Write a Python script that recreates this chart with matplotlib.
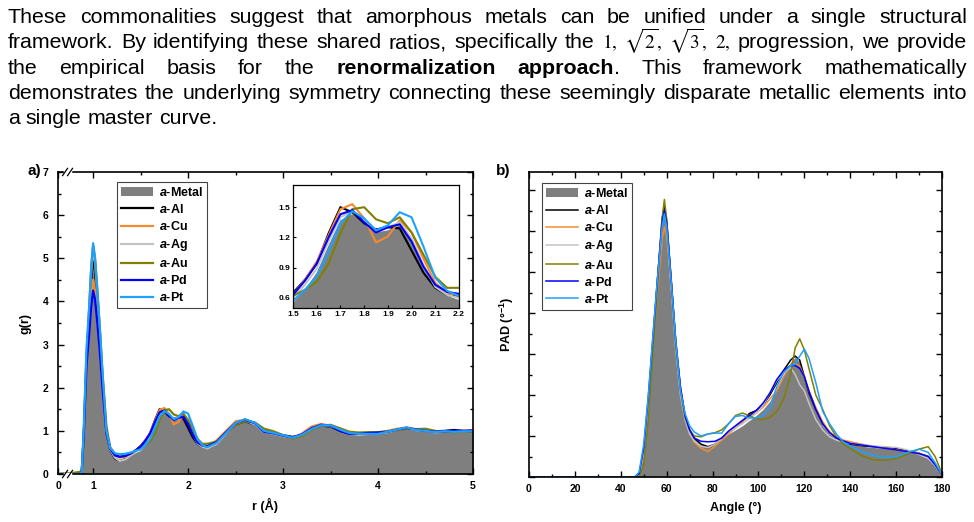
import numpy as np
import matplotlib
matplotlib.use("Agg")
import matplotlib.pyplot as plt
from matplotlib.ticker import MultipleLocator, FormatStrFormatter, NullFormatter

plt.rcParams['font.family'] = ['Liberation Sans', 'DejaVu Sans']
plt.rcParams['mathtext.fontset'] = 'custom'
plt.rcParams['mathtext.rm'] = 'Liberation Sans:bold'
plt.rcParams['mathtext.bf'] = 'Liberation Sans:bold'
plt.rcParams['mathtext.it'] = 'Liberation Sans:italic:bold'

# ---- paragraph above the figure ----
para_lines = [
    "These commonalities suggest that amorphous metals can be unified under a single structural",
    "framework. By identifying these shared ratios, specifically the $1,$ $\\sqrt{2},$ $\\sqrt{3},$ $2,$ progression, we provide",
    "the empirical basis for the **renormalization **approach. This framework mathematically",
    "demonstrates the underlying symmetry connecting these seemingly disparate metallic elements into",
    "a single master curve.",
]

# ---- panel a: g(r) ----
r = [0, 0.8, 0.86, 0.88, 0.9, 0.93, 0.96, 0.98, 1.0, 1.02, 1.04, 1.07, 1.1, 1.14, 1.18,
     1.23, 1.28, 1.34, 1.4, 1.45, 1.5, 1.55, 1.6, 1.65, 1.7, 1.75, 1.8, 1.85, 1.9, 1.95,
     2.0, 2.05, 2.1, 2.15, 2.2, 2.3, 2.4, 2.5, 2.6, 2.7, 2.8, 2.9, 3.0, 3.1, 3.2, 3.3, 3.4,
     3.5, 3.6, 3.7, 3.8, 3.9, 4.0, 4.1, 4.2, 4.3, 4.4, 4.5, 4.6, 4.7, 4.8, 4.9, 5.0]
g_metal = [0, 0, 0, 0.05, 0.9, 2.8, 3.8, 4.6, 5.1, 4.8, 4.2, 3.3, 2.2, 1.0, 0.58,
           0.40, 0.33, 0.36, 0.44, 0.5, 0.55, 0.68, 0.85, 1.12, 1.37, 1.43, 1.35, 1.25, 1.27, 1.32,
           1.16, 0.89, 0.70, 0.62, 0.58, 0.72, 0.96, 1.18, 1.25, 1.16, 0.99, 0.94, 0.88, 0.83, 0.91,
           1.05, 1.13, 1.11, 1.02, 0.95, 0.93, 0.94, 0.95, 0.97, 1.03, 1.07, 1.02, 1.01, 0.97, 0.99,
           0.98, 0.99, 1.0]
g_al = [0, 0, 0, 0.05, 0.85, 2.7, 3.7, 4.5, 5.0, 4.7, 4.1, 3.2, 2.1, 0.95, 0.55,
        0.36, 0.30, 0.35, 0.45, 0.55, 0.65, 0.78, 0.94, 1.24, 1.50, 1.45, 1.34, 1.28, 1.30, 1.29,
        1.07, 0.85, 0.70, 0.63, 0.61, 0.74, 0.95, 1.15, 1.22, 1.15, 1.0, 0.96, 0.9, 0.86, 0.9,
        1.04, 1.12, 1.1, 1.0, 0.94, 0.95, 0.96, 0.96, 0.98, 1.02, 1.06, 1.03, 1.0, 0.99, 1.0,
        1.02, 1.0, 0.99]
g_cu = [0, 0, 0, 0.05, 0.8, 2.5, 3.4, 4.1, 4.5, 4.25, 3.7, 2.9, 1.95, 0.95, 0.56,
        0.42, 0.38, 0.4, 0.47, 0.53, 0.63, 0.78, 0.96, 1.22, 1.48, 1.53, 1.39, 1.15, 1.21, 1.37,
        1.25, 0.99, 0.75, 0.65, 0.63, 0.78, 1.0, 1.22, 1.26, 1.17, 1.0, 0.95, 0.88, 0.84, 0.94,
        1.1, 1.16, 1.12, 1.02, 0.95, 0.93, 0.95, 0.96, 1.0, 1.05, 1.08, 1.04, 1.03, 0.97, 0.98,
        0.99, 1.0, 1.02]
g_ag = [0, 0, 0, 0.05, 0.9, 2.85, 3.9, 4.7, 5.2, 4.9, 4.3, 3.35, 2.2, 1.0, 0.57,
        0.38, 0.3, 0.34, 0.44, 0.52, 0.60, 0.73, 0.89, 1.16, 1.40, 1.46, 1.38, 1.27, 1.30, 1.35,
        1.19, 0.93, 0.71, 0.63, 0.60, 0.7, 0.94, 1.17, 1.24, 1.15, 0.98, 0.93, 0.88, 0.84, 0.9,
        1.04, 1.13, 1.11, 1.03, 0.94, 0.91, 0.93, 0.95, 0.97, 1.02, 1.06, 1.02, 1.0, 0.97, 0.98,
        0.98, 0.99, 1.0]
g_au = [0, 0.03, 0.05, 0.08, 0.7, 2.6, 3.9, 4.8, 5.3, 5.0, 4.4, 3.4, 2.3, 1.1, 0.62,
        0.45, 0.4, 0.42, 0.48, 0.55, 0.62, 0.68, 0.76, 0.94, 1.24, 1.48, 1.50, 1.38, 1.34, 1.40,
        1.25, 1.03, 0.81, 0.70, 0.70, 0.75, 0.95, 1.15, 1.22, 1.2, 1.05, 0.99, 0.9, 0.82, 0.88,
        1.02, 1.12, 1.14, 1.06, 0.98, 0.96, 0.96, 0.97, 0.99, 1.02, 1.05, 1.04, 1.05, 1.0, 0.98,
        0.97, 0.98, 0.99]
g_pd = [0, 0, 0, 0.05, 0.85, 2.5, 3.3, 3.9, 4.25, 4.05, 3.6, 2.85, 1.95, 0.95, 0.58,
        0.43, 0.4, 0.42, 0.48, 0.55, 0.63, 0.77, 0.94, 1.20, 1.43, 1.47, 1.35, 1.25, 1.30, 1.33,
        1.16, 0.91, 0.73, 0.66, 0.64, 0.74, 0.97, 1.18, 1.26, 1.18, 0.98, 0.94, 0.89, 0.85, 0.92,
        1.06, 1.14, 1.12, 1.0, 0.93, 0.93, 0.95, 0.96, 0.98, 1.03, 1.07, 1.03, 1.0, 0.98, 0.99,
        1.0, 1.0, 1.01]
g_pt = [0, 0, 0, 0.05, 1.0, 2.9, 3.95, 4.8, 5.35, 5.0, 4.4, 3.4, 2.3, 1.0, 0.6,
        0.48, 0.46, 0.47, 0.5, 0.54, 0.57, 0.68, 0.81, 1.06, 1.34, 1.46, 1.39, 1.27, 1.32, 1.45,
        1.40, 1.11, 0.80, 0.67, 0.62, 0.72, 0.95, 1.18, 1.27, 1.19, 1.0, 0.95, 0.9, 0.84, 0.91,
        1.04, 1.13, 1.13, 1.03, 0.95, 0.93, 0.93, 0.93, 0.98, 1.03, 1.08, 1.02, 1.0, 0.97, 0.99,
        0.98, 0.99, 0.99]

# ---- panel b: PAD (units of 1/deg) ----
ang = [0, 46, 48, 50, 52, 54, 56, 58, 59, 60, 62, 64, 66, 68, 70, 72, 75, 78, 81, 84,
       87, 90, 93, 96, 99, 102, 105, 108, 111, 114, 116, 118, 120, 122, 125, 128, 131, 134,
       137, 140, 145, 150, 155, 160, 165, 170, 174, 177, 180]
p_metal = [0, 0, 0.05, 0.6, 1.8, 3.3, 4.75, 6.25, 6.55, 6.2, 4.7, 3.2, 2.1, 1.45, 1.15, 0.95,
           0.8, 0.75, 0.8, 0.92, 1.05, 1.15, 1.25, 1.38, 1.5, 1.65, 1.85, 2.15, 2.5, 2.8, 2.92,
           2.8, 2.45, 2.1, 1.6, 1.25, 1.05, 0.93, 0.85, 0.8, 0.75, 0.72, 0.7, 0.66, 0.62, 0.58,
           0.5, 0.3, 0.04]
p_al = [0, 0, 0.05, 0.6, 1.8, 3.3, 4.8, 6.3, 6.6, 6.25, 4.75, 3.25, 2.15, 1.5, 1.15, 0.95,
        0.8, 0.74, 0.8, 0.95, 1.1, 1.2, 1.35, 1.55, 1.62, 1.75, 2.0, 2.3, 2.6, 2.85, 2.95,
        2.85, 2.45, 2.05, 1.65, 1.3, 1.1, 0.95, 0.88, 0.8, 0.76, 0.74, 0.72, 0.7, 0.64, 0.58,
        0.5, 0.3, 0.05]
p_cu = [0, 0, 0.05, 0.55, 1.7, 3.1, 4.5, 5.8, 6.1, 5.85, 4.7, 3.3, 2.2, 1.5, 1.1, 0.85,
        0.7, 0.62, 0.75, 0.9, 1.05, 1.2, 1.35, 1.48, 1.56, 1.7, 1.9, 2.1, 2.45, 2.72, 2.76,
        2.7, 2.45, 2.1, 1.7, 1.35, 1.1, 0.98, 0.9, 0.86, 0.8, 0.75, 0.7, 0.66, 0.62, 0.58,
        0.5, 0.3, 0.05]
p_ag = [0, 0, 0.05, 0.6, 1.8, 3.3, 4.7, 6.2, 6.5, 6.15, 4.6, 3.1, 2.0, 1.4, 1.05, 0.88,
        0.75, 0.72, 0.8, 0.95, 1.1, 1.2, 1.3, 1.42, 1.55, 1.75, 2.05, 2.35, 2.55, 2.67, 2.5,
        2.25, 2.1, 1.8, 1.4, 1.15, 0.98, 0.9, 0.85, 0.82, 0.78, 0.76, 0.74, 0.72, 0.66, 0.55,
        0.45, 0.28, 0.04]
p_au = [0, 0, 0, 0.3, 1.4, 3.0, 4.6, 6.3, 6.77, 6.3, 4.8, 3.2, 2.1, 1.45, 1.15, 1.0,
        0.98, 1.05, 1.08, 1.15, 1.3, 1.5, 1.56, 1.5, 1.42, 1.4, 1.45, 1.6, 1.9, 2.5, 3.15,
        3.37, 3.1, 2.65, 2.0, 1.65, 1.25, 0.98, 0.8, 0.7, 0.52, 0.42, 0.41, 0.45, 0.55, 0.68,
        0.74, 0.5, 0.08]
p_pd = [0, 0, 0.08, 0.7, 1.95, 3.4, 4.85, 6.2, 6.5, 6.2, 4.8, 3.3, 2.2, 1.5, 1.15, 0.95,
        0.87, 0.86, 0.87, 0.95, 1.12, 1.25, 1.38, 1.5, 1.62, 1.8, 2.05, 2.38, 2.6, 2.72, 2.72,
        2.65, 2.45, 2.1, 1.65, 1.3, 1.08, 0.95, 0.88, 0.82, 0.78, 0.74, 0.7, 0.66, 0.62, 0.57,
        0.5, 0.3, 0.05]
p_pt = [0, 0, 0.12, 0.8, 2.0, 3.45, 4.85, 6.1, 6.42, 6.1, 4.75, 3.3, 2.1, 1.55, 1.25, 1.1,
        1.0, 1.05, 1.07, 1.07, 1.3, 1.48, 1.5, 1.44, 1.44, 1.5, 1.7, 2.2, 2.55, 2.72, 2.75,
        2.95, 3.12, 2.9, 2.3, 1.6, 1.3, 1.05, 0.85, 0.75, 0.62, 0.53, 0.47, 0.5, 0.6, 0.68,
        0.6, 0.35, 0.06]
pad_unit = 0.005  # value of one major y tick in panel b

labels = ["a-Al", "a-Cu", "a-Ag", "a-Au", "a-Pd", "a-Pt"]
colors = ["black", "#f58a2f", "#c3c3c3", "#808000", "#0000ff", "#1ea0ff"]
fill_col = "#7f7f7f"

g_series = [g_al, g_cu, g_ag, g_au, g_pd, g_pt]
p_series = [p_al, p_cu, p_ag, p_au, p_pd, p_pt]


def leg_label(s):
    return r"$\it{a}$" + s[1:]


fig = plt.figure(figsize=(9.74, 5.22), dpi=100)
W, H = 974.0, 522.0

# ---------- justified paragraph ----------
renderer = fig.canvas.get_renderer()
fs_para = 15.4
x_left, x_right = 8, 967

# width of a plain space at this size
t_ab = fig.text(0, 0, "a b", fontsize=fs_para)
t_a = fig.text(0, 0, "ab", fontsize=fs_para)
sp = t_ab.get_window_extent(renderer).width - t_a.get_window_extent(renderer).width
t_ab.remove()
t_a.remove()

for i, line in enumerate(para_lines):
    y = 1 - (23 + 25.3 * i) / H
    words = []
    for w in line.split(" "):
        if w == "**renormalization":
            words.append([("renormalization", "bold")])
        elif w == "**approach.":
            words.append([("approach", "bold"), (".", "normal")])
        else:
            words.append([(w, "normal")])
    objs = []
    widths = []
    for word in words:
        segs = []
        wsum = 0
        for txt, wt in word:
            fs = fs_para * 0.9 if txt.startswith("$") else fs_para
            t = fig.text(0, y, txt, fontsize=fs, fontweight=wt, va="baseline",
                         ha="left", math_fontfamily="stix")
            wseg = t.get_window_extent(renderer).width
            segs.append((t, wseg))
            wsum += wseg
        objs.append(segs)
        widths.append(wsum)
    if i < len(para_lines) - 1:
        gap = (x_right - x_left - sum(widths)) / (len(words) - 1)
    else:
        gap = sp
    x = x_left
    for segs, wsum in zip(objs, widths):
        xx = x
        for t, wseg in segs:
            t.set_x(xx / W)
            xx += wseg
        x += wsum + gap

# ---------- panel a ----------
ax1 = fig.add_axes([58 / W, 1 - 474 / H, 415 / W, 302 / H])


def fwd(x):
    x = np.asarray(x, dtype=float)
    return np.where(x < 0.8, 0.63 + x * 0.2125, x)


def inv(y):
    y = np.asarray(y, dtype=float)
    return np.where(y < 0.8, (y - 0.63) / 0.2125, y)


# compressed 0-0.8 region (broken axis)
ax1.set_xscale("function", functions=(fwd, inv))
ax1.fill_between(r, g_metal, color=fill_col, lw=0, label=leg_label("a-Metal"))
for gs, lab, c in zip(g_series, labels, colors):
    ax1.plot(r, gs, color=c, lw=1.6, label=leg_label(lab))
ax1.set_xlim(0, 5)
ax1.set_ylim(0, 7)
ax1.set_xticks([0, 1, 2, 3, 4, 5])
ax1.set_xticks([1.5, 2.5, 3.5, 4.5], minor=True)
ax1.xaxis.set_minor_formatter(NullFormatter())
ax1.yaxis.set_major_locator(MultipleLocator(1))
ax1.yaxis.set_minor_locator(MultipleLocator(0.5))
ax1.set_xlabel("r (Å)", fontsize=9, fontweight="bold", labelpad=5)
ax1.set_ylabel("g(r)", fontsize=9, fontweight="bold", labelpad=8)

leg1 = ax1.legend(loc="upper left", bbox_to_anchor=(0.142, 0.967), borderaxespad=0,
                  prop={"weight": "bold", "size": 9}, frameon=True, fancybox=False,
                  edgecolor="#444444", framealpha=1, handlelength=2.6, handletextpad=0.5,
                  labelspacing=0.33, borderpad=0.3)
leg1.get_frame().set_linewidth(0.8)

# axis break marks
for yb in (0, 1):
    ax1.plot([0.016, 0.03], [yb, yb], transform=ax1.transAxes, color="white", lw=2.5,
             clip_on=False, zorder=5)
    for xc in (0.017, 0.029):
        ax1.plot([xc - 0.006, xc + 0.006], [yb - 0.012, yb + 0.012], transform=ax1.transAxes,
                 color="black", lw=0.9, clip_on=False, zorder=6)

# inset
axi = fig.add_axes([293 / W, 1 - 308 / H, 166 / W, 123 / H])
axi.fill_between(r, g_metal, color=fill_col, lw=0)
for gs, c in zip(g_series, colors):
    axi.plot(r, gs, color=c, lw=1.5)
axi.set_xlim(1.5, 2.2)
axi.set_ylim(0.5, 1.72)
axi.xaxis.set_major_locator(MultipleLocator(0.1))
axi.set_yticks([0.6, 0.9, 1.2, 1.5])
axi.xaxis.set_major_formatter(FormatStrFormatter("%.1f"))
axi.yaxis.set_major_formatter(FormatStrFormatter("%.1f"))
axi.tick_params(labelsize=6, width=0.8, length=2, pad=2, direction="in")
for lab in axi.get_xticklabels() + axi.get_yticklabels():
    lab.set_fontweight("bold")
for s in axi.spines.values():
    s.set_linewidth(0.9)

# ---------- panel b ----------
ax2 = fig.add_axes([529 / W, 1 - 477 / H, 413 / W, 305 / H])
p_metal_v = np.array(p_metal) * pad_unit
ax2.fill_between(ang, p_metal_v, color=fill_col, lw=0, label=leg_label("a-Metal"))
for ps, lab, c in zip(p_series, labels, colors):
    ax2.plot(ang, np.array(ps) * pad_unit, color=c, lw=1.1, label=leg_label(lab))
ax2.set_xlim(0, 180)
ax2.set_ylim(0, 7.44 * pad_unit)
ax2.xaxis.set_major_locator(MultipleLocator(20))
ax2.xaxis.set_minor_locator(MultipleLocator(10))
ax2.yaxis.set_major_locator(MultipleLocator(pad_unit))
ax2.yaxis.set_minor_locator(MultipleLocator(pad_unit / 2))
ax2.set_yticklabels([])
ax2.set_xlabel("Angle (°)", fontsize=9, fontweight="bold", labelpad=6)
ax2.set_ylabel(r"PAD (°$^{-1}$)", fontsize=9, fontweight="bold", labelpad=2)

leg2 = ax2.legend(loc="upper left", bbox_to_anchor=(0.031, 0.963), borderaxespad=0,
                  prop={"weight": "bold", "size": 9}, frameon=True, fancybox=False,
                  edgecolor="#444444", framealpha=1, handlelength=2.6, handletextpad=0.5,
                  labelspacing=0.33, borderpad=0.3)
leg2.get_frame().set_linewidth(0.8)

for ax in (ax1, ax2):
    ax.tick_params(which="both", direction="in", top=True, right=True, width=1.0)
    ax.tick_params(which="major", length=4, labelsize=7.5)
    ax.tick_params(which="minor", length=2.2)
    ax.tick_params(axis="x", which="major", pad=5)
    ax.tick_params(axis="y", which="major", pad=7)
    for lab in ax.get_xticklabels() + ax.get_yticklabels():
        lab.set_fontweight("bold")
    for s in ax.spines.values():
        s.set_linewidth(1.2)

fig.text(27 / W, 1 - 171 / H, "a)", fontsize=11, fontweight="bold", va="center")
fig.text(496 / W, 1 - 171 / H, "b)", fontsize=11, fontweight="bold", va="center")

fig.savefig("out.png", dpi=100)
